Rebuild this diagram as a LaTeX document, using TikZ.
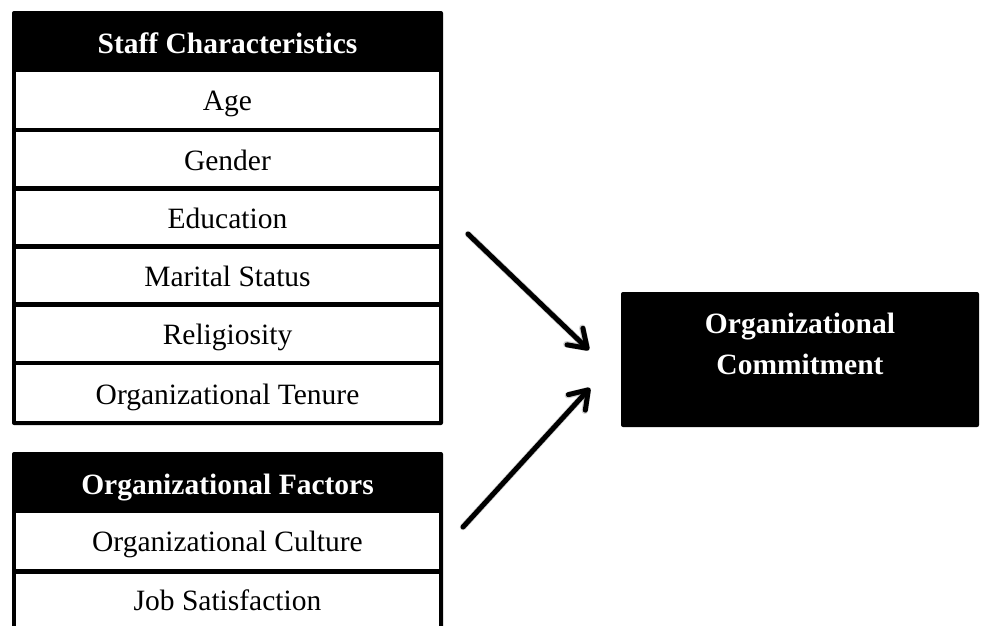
\documentclass[tikz,border=0pt]{standalone}
\usepackage{fontspec}
\setmainfont{Liberation Serif}
\usetikzlibrary{arrows.meta}
\begin{document}
\begin{tikzpicture}[x=1pt,y=-1pt,
  frame/.style={fill=black, rounded corners=2pt},
  cell/.style={fill=white},
  item/.style={anchor=base, inner sep=0pt, font=\fontsize{29.5}{41}\selectfont},
  head/.style={item, text=white, font=\fontsize{29.5}{41}\selectfont\bfseries},
  link/.style={line width=5pt, line cap=round, line join=round,
    -{Straight Barb[length=17pt, width=23pt, line cap=round, line join=round]}},
  linkshadow/.style={link, draw=black, draw opacity=0.18, line width=6.5pt}]
\useasboundingbox (0,0) rectangle (981,625);

% Staff characteristics table
\fill[frame] (12,11) rectangle (443,425);
\node[head] (staffhead) at (227.5,53) {Staff Characteristics};
\foreach \lbl [count=\i from 0] in {Age, Gender, Education, Marital Status, Religiosity, Organizational Tenure} {
  \pgfmathsetmacro\ctop{72 + \i*58.17 + (\i>0)*2.3}
  \pgfmathsetmacro\cbot{(\i<5) ? (72 + (\i+1)*58.17 - 2.3) : 421}
  \fill[cell] (16,\ctop) rectangle (439,\cbot);
  \node[item] (staff\i) at (227.5,{(\ctop+\cbot)/2 + 11}) {\lbl};
}

% Organizational factors table
\fill[frame] (12,452) rectangle (443,660);
\node[head] (orghead) at (227.5,494) {Organizational Factors};
\fill[cell] (16,513) rectangle (439,568.9);
\node[item] (culture) at (227.5,551.5) {Organizational Culture};
\fill[cell] (16,573.5) rectangle (439,640);
\node[item] (jobsat) at (227.5,610.5) {Job Satisfaction};

% Outcome box (base anchor sits on the last line)
\fill[frame] (621,292) rectangle (979,427);
\node[item, text=white, font=\fontsize{29.5}{41}\selectfont\bfseries, align=center]
  (commit) at (800,374) {Organizational\\Commitment};

% Connectors
\coordinate (fromstaff) at (468,234);
\coordinate (tostaff) at (589,350);
\coordinate (fromorg) at (463,527);
\coordinate (toorg) at (590,388);
\begin{scope}[shift={(1.5,2)}]
  \draw[linkshadow] (fromstaff) -- (tostaff);
  \draw[linkshadow] (fromorg) -- (toorg);
\end{scope}
\draw[link] (fromstaff) -- (tostaff);
\draw[link] (fromorg) -- (toorg);
\end{tikzpicture}
\end{document}
